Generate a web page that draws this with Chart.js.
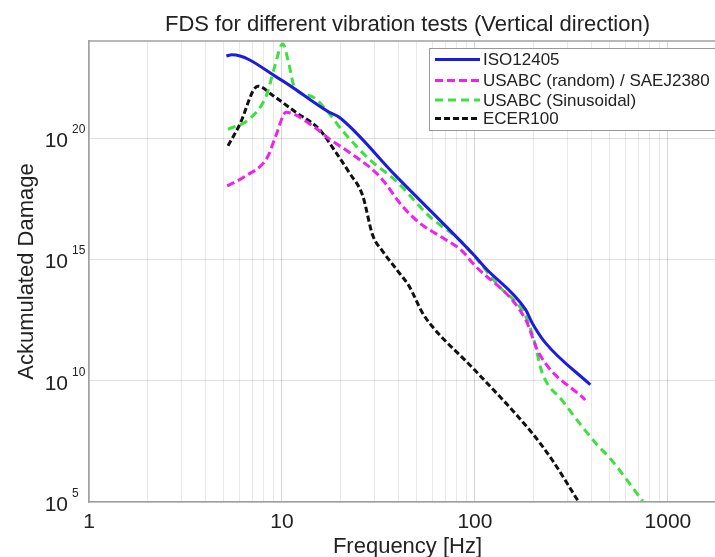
<!DOCTYPE html>
<html>
<head>
<meta charset="utf-8">
<script src="https://cdn.jsdelivr.net/npm/chart.js@4.4.1/dist/chart.umd.min.js"></script>
<style>
  html, body { margin: 0; padding: 0; background: #fff; overflow: hidden; }
  #wrap { width: 740px; height: 557px; }
</style>
</head>
<body>
<div id="wrap"><canvas id="fdsChart" width="740" height="557"></canvas></div>
<script>
// FDS curves (frequency in Hz, accumulated damage)
const isoFreq   = [5.15, 5.5, 9.7, 17.6, 19.8, 38.9, 99.6, 113, 183, 198, 232, 396];
const isoDamage = [2.4e23, 2.7e23, 2.75e22, 1.15e21, 7.2e20, 2.75e18, 1.4e15, 4.5e14, 8.5e12, 2.4e12, 3.6e11, 6.8e9];

const randFreq   = [5.2, 6.5, 8.4, 9.3, 10.5, 14.4, 17.6, 22.3, 31.9, 42, 51.3, 67.8, 86, 97, 183, 214, 373];
const randDamage = [1.07e18, 2.75e18, 1.6e19, 1.26e20, 1.15e21, 3.2e20, 9.1e19, 2.6e19, 2.75e18, 1.6e17, 3.3e16, 7.9e15, 2.2e15, 7.2e14, 3.3e12, 1.4e11, 1.6e9];

const sineFreq   = [5.25, 6.8, 8.3, 9.1, 10.1, 10.9, 11.6, 14.4, 17.6, 20.6, 28.3, 38.9, 57.8, 86, 133, 183, 202, 223, 282, 437, 493, 740];
const sineDamage = [2.3e20, 6.2e20, 5.6e21, 7.1e22, 7.6e23, 9.8e22, 1.23e22, 5.0e21, 1.0e21, 2.0e20, 1.35e19, 1.74e18, 6.2e16, 4.9e15, 7.9e13, 4.6e12, 4.9e11, 2.1e10, 1.6e9, 1.95e7, 7.4e6, 1.1e5];

const ecerFreq   = [5.25, 6.0, 7.5, 9.0, 11.8, 15.6, 19, 22.3, 26.2, 29.5, 33.2, 40.5, 45.6, 53.4, 60, 99.5, 198, 251, 345];
const ecerDamage = [4.8e19, 3.2e20, 1.38e22, 5.6e21, 1.15e21, 2.3e20, 2.6e19, 3.8e18, 4.2e17, 1.0e16, 2.2e15, 2.8e14, 7.9e13, 6.3e12, 1.74e12, 2.8e10, 6.9e7, 5.5e6, 1.0e5];

const seriesNames = ["ISO12405", "USABC (random) / SAEJ2380", "USABC (Sinusoidal)", "ECER100"];
const yTickExps = [5, 10, 15, 20];
const xDecades = [1, 10, 100, 1000];

const chartTitle = "FDS for different vibration tests (Vertical direction)";
const xTitle = "Frequency [Hz]";
const yTitle = "Ackumulated Damage";

const FONT = '"Liberation Sans", Arial, sans-serif';

function toPoints(xs, ys) {
    return xs.map((x, i) => ({ x: x, y: ys[i] }));
}

// title, axis titles, 10^n labels and the boxed legend
const decorPlugin = {
    id: "decor",
    afterDraw(chart) {
        const ctx = chart.ctx;
        const a = chart.chartArea;
        const ys = chart.scales.y;
        ctx.save();

        // top edge of the axes box
        ctx.strokeStyle = "#a0a0a0";
        ctx.lineWidth = 1.5;
        ctx.beginPath();
        ctx.moveTo(a.left, a.top);
        ctx.lineTo(a.right, a.top);
        ctx.stroke();

        ctx.fillStyle = "#222";
        ctx.textAlign = "center";
        ctx.textBaseline = "alphabetic";
        ctx.font = "22px " + FONT;
        ctx.fillText(chartTitle, (a.left + a.right) / 2, 31);
        ctx.fillText(xTitle, (a.left + a.right) / 2, 553);

        ctx.save();
        ctx.translate(33, (a.top + a.bottom) / 2);
        ctx.rotate(-Math.PI / 2);
        ctx.fillText(yTitle, 0, 0);
        ctx.restore();

        // y tick labels as 10 with superscript
        yTickExps.forEach(e => {
            const py = ys.getPixelForValue(Math.pow(10, e));
            ctx.textAlign = "right";
            ctx.font = "21px " + FONT;
            ctx.fillText("10", 68, py + 9);
            ctx.textAlign = "left";
            ctx.font = "12px " + FONT;
            ctx.fillText(String(e), 72, py - 5);
        });

        // legend box
        const lx = 429, ly = 48, lh = 82;
        ctx.fillStyle = "#fff";
        ctx.fillRect(lx, ly, 400, lh);
        ctx.strokeStyle = "#999";
        ctx.lineWidth = 1;
        ctx.strokeRect(lx + 0.5, ly + 0.5, 400, lh);
        const rows = [59.5, 80.5, 100, 118.5];
        chart.data.datasets.forEach((ds, i) => {
            const ry = rows[i];
            ctx.strokeStyle = ds.borderColor;
            ctx.lineWidth = ds.borderWidth;
            ctx.setLineDash(ds.borderDash || []);
            ctx.beginPath();
            ctx.moveTo(435, ry);
            ctx.lineTo(480, ry);
            ctx.stroke();
            ctx.setLineDash([]);
            ctx.fillStyle = "#222";
            ctx.font = "17px " + FONT;
            ctx.textAlign = "left";
            ctx.textBaseline = "middle";
            ctx.fillText(ds.label, 483, ry + 1);
        });
        ctx.restore();
    }
};

const ctx = document.getElementById("fdsChart").getContext("2d");
new Chart(ctx, {
    type: "line",
    data: {
        datasets: [
            {
                label: seriesNames[0],
                data: toPoints(isoFreq, isoDamage),
                borderColor: "#1c1ce0",
                borderWidth: 3,
            },
            {
                label: seriesNames[1],
                data: toPoints(randFreq, randDamage),
                borderColor: "#f020f0",
                borderWidth: 3,
                borderDash: [8, 4],
            },
            {
                label: seriesNames[2],
                data: toPoints(sineFreq, sineDamage),
                borderColor: "#3ee03e",
                borderWidth: 3,
                borderDash: [8, 5],
            },
            {
                label: seriesNames[3],
                data: toPoints(ecerFreq, ecerDamage),
                borderColor: "#111",
                borderWidth: 3,
                borderDash: [6, 3],
            },
        ],
    },
    options: {
        responsive: false,
        animation: false,
        devicePixelRatio: 1,
        layout: { padding: { top: 41, right: 14, left: 0, bottom: 0 } },
        elements: {
            point: { radius: 0 },
            line: { cubicInterpolationMode: "monotone", fill: false },
        },
        plugins: {
            legend: { display: false },
            title: { display: false },
            tooltip: { enabled: false },
        },
        scales: {
            x: {
                type: "logarithmic",
                min: 1,
                max: 2000,
                afterBuildTicks: scale => {
                    const t = [];
                    xDecades.forEach(d => {
                        for (let k = 1; k <= 9; k++) {
                            if (d * k <= 2000) t.push({ value: d * k });
                        }
                    });
                    scale.ticks = t;
                },
                afterFit: scale => { scale.height = 55; },
                grid: {
                    drawTicks: false,
                    lineWidth: 1,
                    color: c => {
                        const v = c.tick ? c.tick.value : 0;
                        return xDecades.includes(v) ? "rgba(0,0,0,0.16)" : "rgba(0,0,0,0.09)";
                    },
                },
                border: { color: "#a0a0a0", width: 1.5 },
                ticks: {
                    autoSkip: false,
                    maxRotation: 0,
                    padding: 8,
                    color: "#222",
                    font: { family: FONT, size: 21 },
                    callback: v => (xDecades.includes(v) ? String(v) : ""),
                },
            },
            y: {
                type: "logarithmic",
                min: 1e5,
                max: 1e24,
                afterBuildTicks: scale => {
                    scale.ticks = yTickExps.map(e => ({ value: Math.pow(10, e) }));
                },
                afterFit: scale => { scale.width = 89; },
                grid: {
                    drawTicks: false,
                    color: "rgba(0,0,0,0.12)",
                },
                border: { color: "#a0a0a0", width: 1.5 },
                ticks: { display: false },
            },
        },
    },
    plugins: [decorPlugin],
});
</script>
</body>
</html>
